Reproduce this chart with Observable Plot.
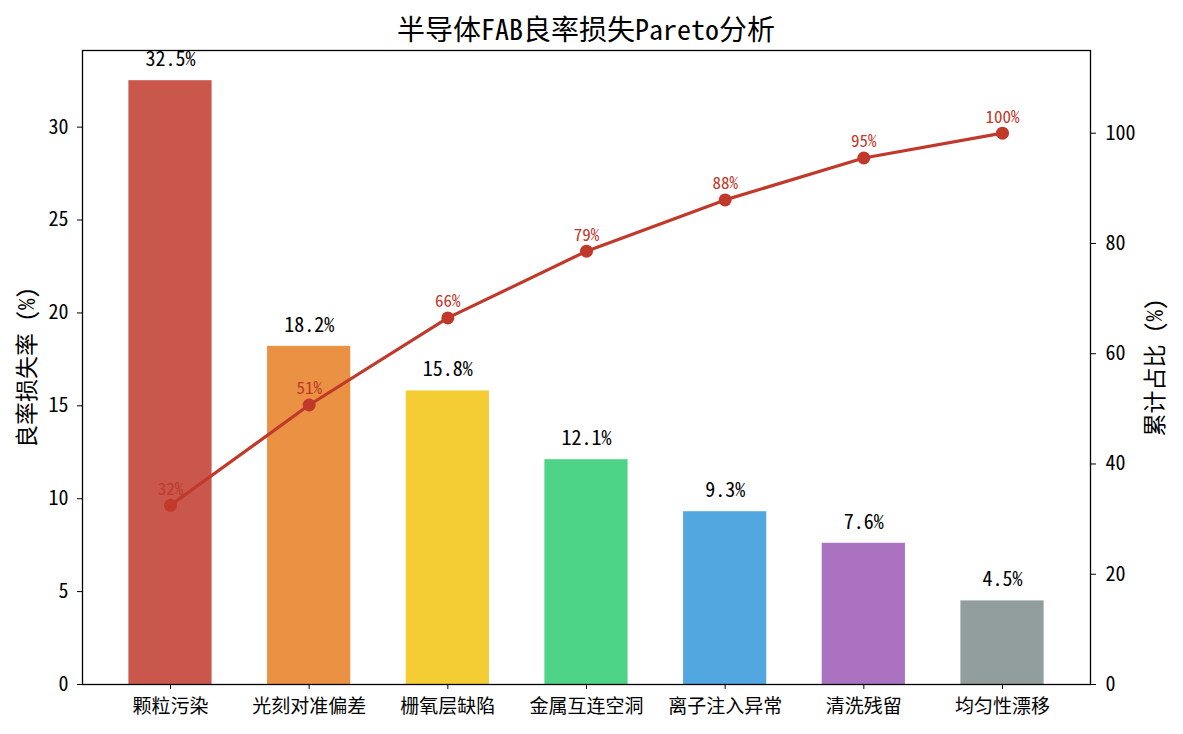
<!DOCTYPE html>
<html><head><meta charset="utf-8">
<script src="https://cdn.jsdelivr.net/npm/d3@7"></script>
<script src="https://cdn.jsdelivr.net/npm/@observablehq/plot@0.6"></script>
<style>
body{margin:0;background:#fff;}
#wrap{position:relative;width:1183px;height:734px;font-family:"Noto Sans Mono CJK SC","Noto Sans CJK SC",sans-serif;}
#title{position:absolute;top:0;left:82px;width:1008px;height:50px;line-height:56px;text-align:center;font-size:28px;color:#000;}
.layer{position:absolute;top:40px;left:0;}
</style></head><body>
<div id="wrap"><div id="title">半导体FAB良率损失Pareto分析</div><div id="c1" class="layer"></div><div id="c2" class="layer"></div></div>
<script>
const categories = ["颗粒污染","光刻对准偏差","栅氧层缺陷","金属互连空洞","离子注入异常","清洗残留","均匀性漂移"];
const lossRate = [32.5, 18.2, 15.8, 12.1, 9.3, 7.6, 4.5];
const cumulative = [32.5, 50.7, 66.5, 78.6, 87.9, 95.5, 100.0];
const cumLabels = ["32%","51%","66%","79%","88%","95%","100%"];
const barLabels = ["32.5%","18.2%","15.8%","12.1%","9.3%","7.6%","4.5%"];
const leftTicks = [0,5,10,15,20,25,30];
const rightTicks = [0,20,40,60,80,100];
const colors = ["#c0392b","#e67e22","#f1c40f","#2ecc71","#3498db","#9b59b6","#7f8c8d"];

const FONT = '"Noto Sans Mono CJK SC","Noto Sans CJK SC",sans-serif';
const rows = categories.map((c,i)=>({c, v: lossRate[i], cum: cumulative[i], bl: barLabels[i], cl: cumLabels[i], col: colors[i]}));
const W=1183, H=694, mt=10, mb=50, ml=82, mr=93;
const xOpts = {type:"band", domain: categories, paddingInner:0.4, paddingOuter:0.3346, align:0.5, round:false};
const style = {fontFamily: FONT, fontSize:"20px", background:"transparent", overflow:"visible", color:"#000"};

const p1 = Plot.plot({
  width:W, height:H, marginTop:mt, marginBottom:mb, marginLeft:ml, marginRight:mr,
  style, x: xOpts, y:{domain:[0,34.125]}, color:{type:"identity"},
  marks:[
    Plot.barY(rows,{x:"c", y:"v", fill:"col", fillOpacity:0.85}),
    Plot.text(rows,{x:"c", y:"v", text:"bl", dy:-21, fontSize:20, fill:"#000"}),
    Plot.axisX({tickSize:5, tickPadding:10, fontSize:19, label:null}),
    Plot.axisY({ticks:leftTicks, tickSize:5, tickPadding:9, fontSize:20, label:null}),
    Plot.frame({stroke:"#000", strokeWidth:1.3}),
    Plot.text(["良率损失率 (%)"],{frameAnchor:"left", dx:-55, rotate:-90, textAnchor:"middle", fontSize:23, fill:"#000"})
  ]
});
document.getElementById("c1").appendChild(p1);

const p2 = Plot.plot({
  width:W, height:H, marginTop:mt, marginBottom:mb, marginLeft:ml, marginRight:mr,
  style, x: {...xOpts, axis:null}, y:{domain:[0,115]},
  marks:[
    Plot.line(rows,{x:"c", y:"cum", stroke:"#c0392b", strokeWidth:3.2}),
    Plot.dot(rows,{x:"c", y:"cum", r:6.5, fill:"#c0392b", stroke:"none"}),
    Plot.text(rows,{x:"c", y:"cum", text:"cl", dy:-16, fontSize:17, fill:"#c0392b"}),
    Plot.axisY({anchor:"right", ticks:rightTicks, tickSize:5, tickPadding:10, fontSize:20, label:null}),
    Plot.text(["累计占比 (%)"],{frameAnchor:"right", dx:65, rotate:-90, textAnchor:"middle", fontSize:23, fill:"#000"})
  ]
});
document.getElementById("c2").appendChild(p2);
</script>
</body></html>
